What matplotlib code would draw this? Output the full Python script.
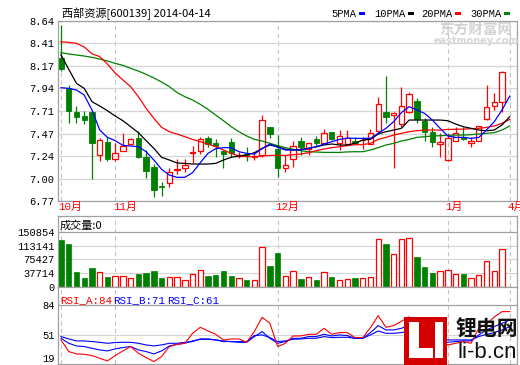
import matplotlib
matplotlib.use("Agg")
import matplotlib.pyplot as plt
from matplotlib.patches import Rectangle
import matplotlib.transforms as mtrans

# ---------------- data ----------------
title = "西部资源[600139] 2014-04-14"
month_labels = ["10月", "11月", "12月", "1月", "4月"]
month_index = [0, 7, 28, 50, 58]

opens = [8.26, 7.94, 7.698, 7.653, 7.694, 7.244, 7.383, 7.206, 7.29, 7.365,
         7.421, 7.227, 7.12, 6.93, 6.953, 7.09, 7.11, 7.265, 7.286, 7.421,
         7.37, 7.293, 7.383, 7.24, 7.262, 7.232, 7.244, 7.535, 7.314, 7.109,
         7.203, 7.397, 7.314, 7.41, 7.37, 7.487, 7.37, 7.365, 7.393, 7.40,
         7.362, 7.50, 7.694, 7.66, 7.57, 7.698, 7.809, 7.604, 7.487, 7.365,
         7.196, 7.393, 7.43, 7.369, 7.397, 7.622, 7.757, 7.795]
highs = [8.60, 7.975, 7.757, 7.705, 7.705, 7.421, 7.43, 7.376, 7.48, 7.428,
         7.497, 7.30, 7.154, 6.97, 7.11, 7.21, 7.203, 7.34, 7.43, 7.445,
         7.41, 7.30, 7.424, 7.28, 7.328, 7.265, 7.663, 7.535, 7.456, 7.248,
         7.397, 7.43, 7.37, 7.445, 7.514, 7.487, 7.507, 7.507, 7.43, 7.43,
         7.514, 7.847, 8.068, 7.69, 7.951, 7.906, 7.843, 7.629, 7.542, 7.48,
         7.473, 7.542, 7.54, 7.43, 7.549, 7.975, 7.895, 8.124]
lows = [8.12, 7.584, 7.584, 7.57, 7.002, 7.189, 7.19, 7.19, 7.29, 7.365,
        7.213, 7.012, 6.808, 6.822, 6.92, 7.05, 7.068, 7.168, 7.26, 7.328,
        7.23, 7.112, 7.23, 7.216, 7.19, 7.196, 7.223, 7.421, 7.016, 7.068,
        7.12, 7.244, 7.244, 7.334, 7.37, 7.40, 7.30, 7.352, 7.365, 7.314,
        7.36, 7.473, 7.584, 7.109, 7.542, 7.68, 7.584, 7.397, 7.328, 7.23,
        7.19, 7.39, 7.40, 7.33, 7.39, 7.61, 7.715, 7.698]
closes = [8.14, 7.70, 7.646, 7.608, 7.376, 7.404, 7.21, 7.265, 7.345, 7.41,
          7.23, 7.085, 6.88, 6.92, 7.075, 7.10, 7.14, 7.275, 7.41, 7.366,
          7.338, 7.262, 7.265, 7.25, 7.244, 7.24, 7.611, 7.466, 7.109, 7.147,
          7.345, 7.334, 7.37, 7.376, 7.473, 7.41, 7.445, 7.428, 7.376, 7.405,
          7.48, 7.778, 7.646, 7.68, 7.757, 7.881, 7.618, 7.49, 7.383, 7.383,
          7.424, 7.473, 7.417, 7.393, 7.549, 7.743, 7.798, 8.114]

ma5 = [7.947, 7.94, 7.923, 7.871, 7.715, 7.508, 7.431, 7.397, 7.348, 7.341,
       7.334, 7.282, 7.196, 7.099, 7.04, 7.016, 7.016, 7.064, 7.168, 7.265,
       7.314, 7.324, 7.324, 7.282, 7.265, 7.258, 7.314, 7.362, 7.328, 7.30,
       7.30, 7.30, 7.317, 7.334, 7.362, 7.386, 7.41, 7.424, 7.421, 7.421,
       7.421, 7.473, 7.525, 7.594, 7.688, 7.75, 7.715, 7.68, 7.611, 7.525,
       7.445, 7.431, 7.431, 7.421, 7.431, 7.508, 7.594, 7.715, 7.86]
ma10 = [8.287, 8.138, 7.992, 7.94, 7.802, 7.757, 7.708, 7.653, 7.604, 7.542,
        7.48, 7.397, 7.317, 7.224, 7.196, 7.165, 7.161, 7.154, 7.154, 7.154,
        7.161, 7.196, 7.224, 7.237, 7.248, 7.272, 7.317, 7.352, 7.334, 7.307,
        7.30, 7.307, 7.317, 7.334, 7.352, 7.362, 7.352, 7.352, 7.369, 7.404,
        7.41, 7.466, 7.49, 7.507, 7.525, 7.611, 7.611, 7.611, 7.611, 7.611,
        7.604, 7.57, 7.542, 7.525, 7.507, 7.50, 7.507, 7.56, 7.646]
ma20 = [8.425, 8.418, 8.408, 8.37, 8.30, 8.27, 8.193, 8.10, 8.027, 7.958,
        7.854, 7.733, 7.629, 7.535, 7.49, 7.466, 7.438, 7.41, 7.386, 7.362,
        7.334, 7.30, 7.265, 7.237, 7.23, 7.23, 7.237, 7.244, 7.244, 7.244,
        7.251, 7.258, 7.272, 7.293, 7.31, 7.324, 7.334, 7.345, 7.355, 7.355,
        7.369, 7.41, 7.431, 7.455, 7.473, 7.49, 7.50, 7.507, 7.507, 7.507,
        7.514, 7.514, 7.517, 7.521, 7.525, 7.535, 7.549, 7.577, 7.618]
ma30 = [8.311, 8.297, 8.287, 8.276, 8.262, 8.245, 8.224, 8.2, 8.179, 8.148,
        8.12, 8.086, 8.048, 8.006, 7.958, 7.897, 7.854, 7.819, 7.774, 7.722,
        7.663, 7.604, 7.542, 7.49, 7.445, 7.41, 7.393, 7.369, 7.345, 7.324,
        7.307, 7.293, 7.282, 7.279, 7.275, 7.275, 7.275, 7.28, 7.282, 7.282,
        7.30, 7.324, 7.352, 7.369, 7.393, 7.41, 7.431, 7.438, 7.445, 7.448,
        7.452, 7.455, 7.455, 7.459, 7.466, 7.473, 7.48, 7.507, 7.549]

volume = [128000, 117800, 40700, 24200, 50900, 40700, 27000, 28900, 28900, 25300,
          34400, 37200, 43500, 24200, 27000, 28000, 17900, 34400, 45400, 28900,
          31700, 43500, 28900, 25300, 17900, 17900, 107900, 56400, 92200, 30800,
          42700, 20600, 28000, 17900, 39900, 26100, 17900, 22500, 23400, 25300,
          28000, 129900, 117800, 89500, 129900, 133500, 81200, 53700, 37200, 44600,
          47300, 36300, 34400, 25300, 33600, 72100, 44600, 102400, 0]

rsi_a = [45.5, 32.7, 30.1, 29.7, 28.3, 25.3, 22.4, 28.3, 33.4, 38.2,
         30.8, 26.1, 21.7, 27.2, 38.2, 40.7, 41.8, 52.8, 59.4, 55.4,
         51.7, 45.5, 46.6, 46.6, 42.9, 55.0, 70.4, 63.8, 38.2, 41.8,
         49.9, 49.9, 51.7, 51.7, 58.3, 51.7, 53.6, 53.6, 48.1, 48.1,
         59.0, 72.3, 59.4, 61.3, 66.0, 71.0, 50.0, 47.3, 45.5, 45.5,
         40.0, 41.8, 43.7, 41.8, 58.3, 63.0, 70.8, 76.7, 76.7]
rsi_b = [47.3, 41.8, 38.9, 38.2, 36.3, 34.5, 33.4, 35.6, 37.1, 38.2,
         34.5, 32.7, 30.1, 33.4, 38.9, 40.7, 41.8, 44.4, 46.2, 46.2,
         45.5, 43.7, 43.7, 42.9, 42.9, 49.2, 54.7, 47.3, 41.8, 43.7,
         47.3, 47.3, 49.2, 49.2, 51.7, 49.9, 51.0, 50.3, 47.3, 47.3,
         53.6, 61.3, 56.5, 56.5, 58.3, 62.0, 51.0, 45.5, 43.7, 43.7,
         42.9, 43.7, 44.4, 44.4, 51.0, 56.5, 60.2, 63.8, 67.5]
rsi_c = [49.2, 46.6, 44.4, 44.4, 43.7, 42.9, 41.8, 42.6, 42.9, 42.9,
         41.8, 40.0, 38.9, 40.0, 41.8, 41.8, 42.9, 43.7, 46.6, 46.6,
         45.5, 44.4, 43.7, 43.7, 43.7, 50.3, 51.0, 48.1, 43.7, 44.4,
         46.2, 46.6, 47.3, 47.3, 49.2, 48.1, 48.4, 48.4, 47.3, 47.3,
         51.0, 55.4, 52.8, 52.8, 53.6, 55.0, 49.2, 47.3, 46.2, 46.2,
         45.5, 45.5, 45.5, 45.5, 49.2, 51.7, 53.6, 56.5, 60.2]

price_ticks = [8.64, 8.41, 8.17, 7.94, 7.71, 7.47, 7.24, 7.00, 6.77]
vol_ticks = [150854, 113141, 75427, 37714, 0]
rsi_ticks = [84, 51, 19]
legend_names = ["5PMA", "10PMA", "20PMA", "30PMA"]

# ---------------- style ----------------
RED = "#ff0000"
GREEN = "#008000"
BLUE = "#0000ff"
BLACK = "#000000"
FRAME = "#a0a0a0"
GRID = "#d4d4d4"
VGRID = "#c4c4c4"
NUMFONT = ["Liberation Mono", "Noto Sans CJK SC"]
CJK = ["Noto Sans CJK SC", "DejaVu Sans"]

W, H = 520, 365
fig = plt.figure(figsize=(5.2, 3.65), dpi=100)
fig.patch.set_facecolor("white")


def add_ax(l, t, r, b):
    return fig.add_axes([l / W, 1 - b / H, (r - l) / W, (b - t) / H])


ax1 = add_ax(58, 21, 517, 201)
ax2 = add_ax(58, 216, 517, 287)
ax3 = add_ax(58, 287, 517, 364)

XL = (-0.39, 58.94)
n = len(closes)
xs = list(range(n))
xall = list(range(len(ma5)))

for ax in (ax1, ax2, ax3):
    ax.set_xlim(*XL)
    ax.set_xticks([])
    for s in ax.spines.values():
        s.set_color(FRAME)
        s.set_linewidth(0.9)
    ax.tick_params(axis="y", length=0, pad=2.5, labelsize=7.5)
    for xi in month_index:
        ax.axvline(xi, color=VGRID, lw=0.8, ls=(0, (4, 3)), zorder=0)

# ---------- main price panel ----------
ax1.set_ylim(6.77, 8.64)
ax1.set_yticks(price_ticks)
ax1.set_yticklabels([f"{v:.2f}" for v in price_ticks], family=NUMFONT)
for v in price_ticks:
    ax1.axhline(v, color=GRID, lw=0.9, zorder=0)

bw = 0.7
for i in xs:
    o, h, l, c = opens[i], highs[i], lows[i], closes[i]
    if c >= o:
        top, bot = c, o
        ax1.vlines(i, top, h, color=RED, lw=0.9, zorder=2)
        ax1.vlines(i, l, bot, color=RED, lw=0.9, zorder=2)
        ax1.add_patch(Rectangle((i - bw / 2, bot), bw, max(top - bot, 0.004),
                                facecolor="none", edgecolor=RED, lw=0.9, zorder=2))
    else:
        ax1.vlines(i, l, h, color=GREEN, lw=0.9, zorder=2)
        ax1.add_patch(Rectangle((i - bw / 2, c), bw, max(o - c, 0.006),
                                facecolor=GREEN, edgecolor=GREEN, lw=0.6, zorder=2))

ax1.plot(xall, ma30, color=GREEN, lw=0.9, zorder=3)
ax1.plot(xall, ma20, color=RED, lw=0.9, zorder=3)
ax1.plot(xall, ma10, color=BLACK, lw=0.9, zorder=3)
ax1.plot(xall, ma5, color=BLUE, lw=0.9, zorder=3)

trans1 = mtrans.blended_transform_factory(ax1.transData, ax1.transAxes)
for xi, lab in zip(month_index, month_labels):
    ax1.text(xi - 0.3, -0.035, lab, transform=trans1, color=RED, fontsize=7.8,
             family=NUMFONT, va="center", ha="left", clip_on=False)

# ---------- volume panel ----------
ax2.set_ylim(0, 193700)
ax2.set_yticks(vol_ticks)
ax2.set_yticklabels([str(v) for v in vol_ticks], family=NUMFONT)
ax2.axhline(vol_ticks[0], color=FRAME, lw=0.9, zorder=1)
for v in vol_ticks[1:-1]:
    ax2.axhline(v, color=GRID, lw=0.8, zorder=0)
vcols = []
for i in range(len(volume)):
    if i < n and closes[i] >= opens[i]:
        vcols.append("up")
    else:
        vcols.append("down")
up_x = [i for i in range(len(volume)) if vcols[i] == "up" and volume[i] > 0]
dn_x = [i for i in range(len(volume)) if vcols[i] == "down" and volume[i] > 0]
ax2.bar(up_x, [volume[i] for i in up_x], width=bw, facecolor="white",
        edgecolor=RED, lw=0.9, zorder=2)
ax2.bar(dn_x, [volume[i] for i in dn_x], width=bw, facecolor=GREEN,
        edgecolor=GREEN, lw=0.5, zorder=2)
ax2.text(0.004, 0.87, "成交量:0", transform=ax2.transAxes, fontsize=8,
         family=CJK, va="center", ha="left")

# ---------- RSI panel ----------
ax3.set_ylim(19, 103.8)
ax3.set_yticks(rsi_ticks)
ax3.set_yticklabels([str(v) for v in rsi_ticks], family=NUMFONT)
ax3.get_yticklabels()[-1].set_va("bottom")
ax3.axhline(84, color=FRAME, lw=0.9, zorder=1)
ax3.axhline(51, color=GRID, lw=0.8, zorder=0)
ax3.plot(xall, rsi_c, color=BLUE, lw=0.8, zorder=4)
ax3.plot(xall, rsi_b, color=BLUE, lw=0.8, zorder=4)
ax3.plot(xall, rsi_a, color=RED, lw=0.8, zorder=4)
for xf, lab, col in [(0.004, "RSI_A:84", RED), (0.12, "RSI_B:71", BLUE),
                     (0.237, "RSI_C:61", BLUE)]:
    ax3.text(xf, 0.83, lab, transform=ax3.transAxes, color=col, fontsize=7.8,
             family=NUMFONT, va="center", ha="left")

# ---------- header ----------
fig.text(62 / W, 1 - 14 / H, title, fontsize=8, family=CJK, va="center", ha="left")
leg_text_x = [331, 374, 421, 470]
leg_box_x = [359, 407.5, 455, 503.5]
leg_cols = [BLUE, BLACK, RED, GREEN]


def frect(l, t, w, h, color, z=5):
    fig.add_artist(Rectangle((l / W, 1 - (t + h) / H), w / W, h / H,
                             transform=fig.transFigure, facecolor=color,
                             edgecolor="none", zorder=z))


for tx, bx, name, col in zip(leg_text_x, leg_box_x, legend_names, leg_cols):
    fig.text(tx / W, 1 - 14 / H, name, fontsize=7.5, family=NUMFONT,
             va="center", ha="left")
    frect(bx, 12.5, 6, 2.6, col)

# eastmoney watermark
fig.text(476 / W, 1 - 29.5 / H, "东方财富网", fontsize=10.5, family=CJK,
         color="#d2d2d2", weight="bold", va="center", ha="center")
fig.text(476 / W, 1 - 41.5 / H, "eastmoney.com", fontsize=7, family=["DejaVu Sans"],
         color="#d6d6d6", weight="bold", va="center", ha="center")

# li-b.cn logo
frect(404, 317, 43, 48, "#d40000", z=3)
frect(409, 322, 10, 36, "white", z=3)
frect(409, 348, 24, 10, "white", z=3)
frect(435, 322, 7.5, 36, "white", z=3)
fig.text(487 / W, 1 - 329 / H, "锂电网", fontsize=15, family=CJK, weight="bold",
         color="#111111", va="center", ha="center", zorder=3)
fig.text(487 / W, 1 - 353 / H, "li-b.cn", fontsize=16, family=["Liberation Sans"],
         color="#111111", va="center", ha="center", zorder=3)

fig.savefig("out.png", dpi=100, facecolor="white")
